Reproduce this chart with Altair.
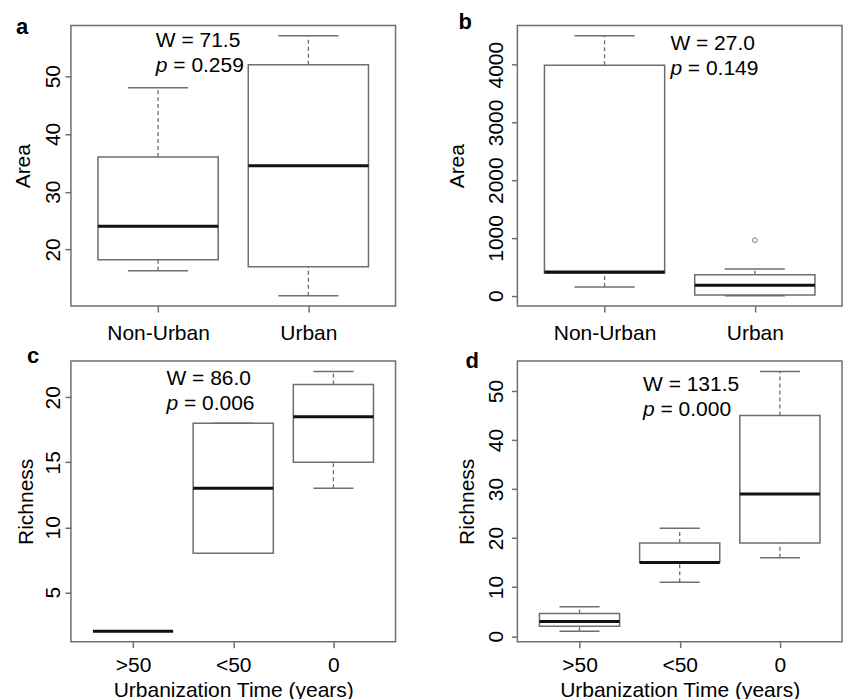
import json
import altair as alt
import pandas as pd

# ---------------- data ----------------
# panel a
a_cats = ["Non-Urban", "Urban"]
a_min = [16.3, 12.0]
a_q1 = [18.2, 17.0]
a_med = [24.0, 34.5]
a_q3 = [36.0, 52.0]
a_max = [48.0, 57.0]
a_ticks = [20, 30, 40, 50]
a_W, a_p = "W = 71.5", "0.259"
a_note = (0.985, 55.1)

# panel b
b_cats = ["Non-Urban", "Urban"]
b_min = [150, 0]
b_q1 = [390, 10]
b_med = [410, 180]
b_q3 = [3990, 360]
b_max = [4500, 460]
b_out_pos = [2]
b_out_val = [960]
b_ticks = [0, 1000, 2000, 3000, 4000]
b_W, b_p = "W = 27.0", "0.149"
b_note = (1.438, 4260)

# panel c
c_cats = [">50", "<50", "0"]
c_min = [2, 8, 13]
c_q1 = [2, 8, 15]
c_med = [2, 13, 18.5]
c_q3 = [2, 18, 21]
c_max = [2, 18, 22]
c_ticks = [5, 10, 15, 20]
c_W, c_p = "W = 86.0", "0.006"
c_note = (1.334, 20.95)

# panel d
d_cats = [">50", "<50", "0"]
d_min = [1, 11, 16]
d_q1 = [2, 15, 19]
d_med = [3, 15, 29]
d_q3 = [4.6, 19, 45]
d_max = [6, 22, 54]
d_ticks = [0, 10, 20, 30, 40, 50]
d_W, d_p = "W = 131.5", "0.000"
d_note = (1.634, 49.9)

# ---------------- style ----------------
FONT = "Liberation Sans"
FS = 21
GRAY = "#6e6e6e"
W_PANEL = 325
H_PANEL = 281


def panel(letter, cats, mins, q1s, meds, q3s, maxs, ticks, ytitle, xtitle,
          W, p, note, letter_xy, ylabpad, ytitlex, xlabpad,
          out_pos=None, out_val=None, anchor=False):
    n = len(cats)
    df = pd.DataFrame({"pos": list(range(1, n + 1)), "cat": cats,
                       "lo": mins, "q1": q1s, "med": meds, "q3": q3s, "hi": maxs})
    allv = list(mins) + list(maxs) + (list(out_val) if out_val else [])
    lo, hi = min(allv), max(allv)
    ext = 0.04 * (hi - lo)
    ys = alt.Scale(domain=[lo - ext, hi + ext], nice=False, zero=False)
    xs = alt.Scale(domain=[0.5 - 0.04 * n, n + 0.5 + 0.04 * n], nice=False, zero=False)

    xaxis_kw = dict(values=list(range(1, n + 1)),
                    labelExpr=f"{json.dumps(cats)}[datum.value - 1]",
                    tickSize=6, labelPadding=xlabpad, labelBaseline="alphabetic",
                    labelAlign="center", labelOverlap=False, labelFlush=False,
                    grid=False, domain=False)
    if xtitle:
        xaxis_kw.update(titleY=54.5, titleBaseline="alphabetic", titleX=W_PANEL / 2,
                        titleAlign="center")
    xaxis = alt.Axis(**xaxis_kw)
    yaxis = alt.Axis(values=ticks, format="d", labelAngle=270, labelAlign="center",
                     labelBaseline="alphabetic", labelPadding=ylabpad, tickSize=6,
                     labelOverlap=False, labelFlush=False, grid=False, domain=False,
                     titleAngle=270, titleX=ytitlex, titleY=H_PANEL / 2,
                     titleAlign="center", titleBaseline="alphabetic")

    def X(f):
        return alt.X(f, type="quantitative", scale=xs, axis=xaxis, title=xtitle)

    def Y(f):
        return alt.Y(f, type="quantitative", scale=ys, axis=yaxis, title=ytitle)

    base = alt.Chart(df).transform_calculate(
        bl="datum.pos - 0.4", br="datum.pos + 0.4",
        cl="datum.pos - 0.2", cr="datum.pos + 0.2")

    wh_up = base.mark_rule(color=GRAY, strokeWidth=1.3, strokeDash=[4, 3]).encode(
        x=X("pos"), y=Y("q3"), y2="hi")
    wh_lo = base.mark_rule(color=GRAY, strokeWidth=1.3, strokeDash=[4, 3]).encode(
        x=X("pos"), y=Y("lo"), y2="q1")
    cap_up = base.mark_rule(color=GRAY, strokeWidth=1.5).encode(
        x=X("cl"), x2="cr", y=Y("hi"))
    cap_lo = base.mark_rule(color=GRAY, strokeWidth=1.5).encode(
        x=X("cl"), x2="cr", y=Y("lo"))
    box = base.mark_rect(fill="white", stroke=GRAY, strokeWidth=1.5).encode(
        x=X("bl"), x2="br", y=Y("q1"), y2="q3")
    med = base.mark_rule(color="#111111", strokeWidth=3).encode(
        x=X("bl"), x2="br", y=Y("med"))
    layers = [wh_up, wh_lo, cap_up, cap_lo, box, med]

    if out_pos:
        odf = pd.DataFrame({"pos": out_pos, "val": out_val})
        layers.append(alt.Chart(odf).mark_point(shape="circle", size=22, color=GRAY,
                                                 strokeWidth=1.2, filled=False).encode(
            x=X("pos"), y=Y("val")))

    ndf = pd.DataFrame({"x": [note[0]], "y": [note[1]], "W": [W],
                        "pl": ["p"], "pv": ["= " + p]})
    nb = alt.Chart(ndf)
    tkw = dict(align="left", baseline="alphabetic", font=FONT, fontSize=FS, color="black")
    layers.append(nb.mark_text(**tkw).encode(x=X("x"), y=Y("y"), text="W:N"))
    layers.append(nb.mark_text(fontStyle="italic", dy=25, **tkw).encode(
        x=X("x"), y=Y("y"), text="pl:N"))
    layers.append(nb.mark_text(dx=17.5, dy=25, **tkw).encode(
        x=X("x"), y=Y("y"), text="pv:N"))

    ldf = pd.DataFrame({"t": [letter]})
    layers.append(alt.Chart(ldf).mark_text(align="left", baseline="alphabetic", font=FONT,
                                           fontSize=22, fontWeight="bold", color="black").encode(
        x=alt.value(letter_xy[0]), y=alt.value(letter_xy[1]), text="t:N"))

    if anchor:
        layers.append(alt.Chart(ldf).mark_rule(strokeOpacity=0, strokeWidth=0.01).encode(
            x=alt.value(-70), x2=alt.value(-69.5), y=alt.value(-23.5)))

    return alt.layer(*layers).properties(width=W_PANEL, height=H_PANEL)


pa = panel("a", a_cats, a_min, a_q1, a_med, a_q3, a_max, a_ticks, "Area", None,
           a_W, a_p, a_note, (-55, 8.5), 5.7, -41.7, 27.5, anchor=True)
pb = panel("b", b_cats, b_min, b_q1, b_med, b_q3, b_max, b_ticks, "Area", None,
           b_W, b_p, b_note, (-59, 3.5), 9, -53.7, 27.5,
           out_pos=b_out_pos, out_val=b_out_val)
pc = panel("c", c_cats, c_min, c_q1, c_med, c_q3, c_max, c_ticks, "Richness",
           "Urbanization Time (years)", c_W, c_p, c_note, (-44, 2.5), 5.7, -38.3, 23.5)
pd_ = panel("d", d_cats, d_min, d_q1, d_med, d_q3, d_max, d_ticks, "Richness",
            "Urbanization Time (years)", d_W, d_p, d_note, (-52, 7.5), 9.3, -43.7, 23.5)

chart = alt.concat(pa, pb, pc, pd_, columns=2, spacing={"row": 55, "column": 122},
                   bounds="flush").properties(
    padding={"left": 0, "top": 0, "right": 0, "bottom": 0},
    background="white"
).configure_view(stroke=GRAY, strokeWidth=1.5).configure_axis(
    labelFont=FONT, labelFontSize=FS, labelColor="black",
    titleFont=FONT, titleFontSize=FS, titleFontWeight="normal", titleColor="black",
    tickColor=GRAY, tickWidth=1.5, domain=False, grid=False
)

chart.save("out.html", embed_options={"renderer": "svg", "actions": False})
